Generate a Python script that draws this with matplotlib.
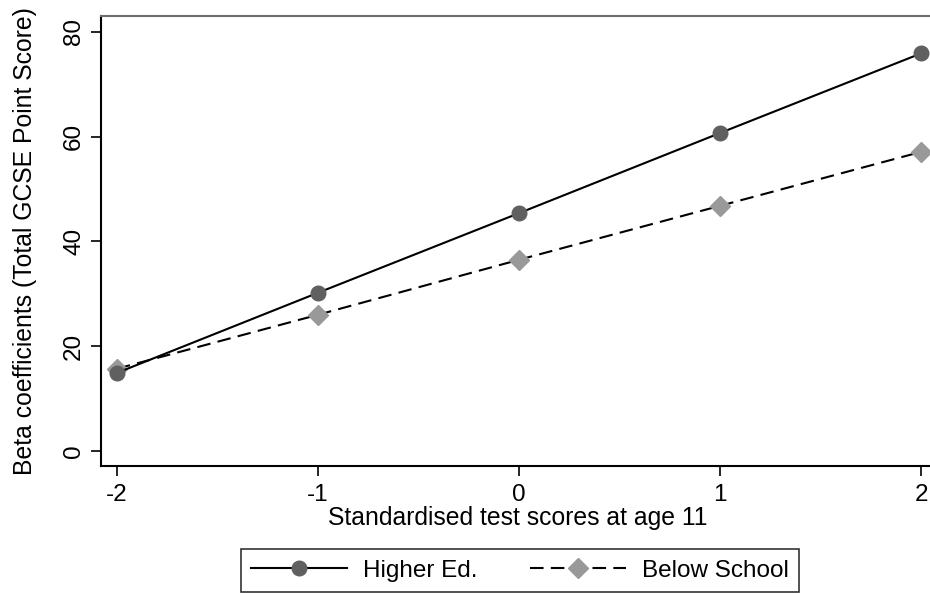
import matplotlib
matplotlib.use("Agg")
import matplotlib.pyplot as plt

x_vals = [-2, -1, 0, 1, 2]
higher_ed = [14.9, 30.2, 45.4, 60.7, 75.9]
below_school = [15.7, 26.0, 36.5, 46.8, 57.1]
y_ticks = [0, 20, 40, 60, 80]
x_ticks = [-2, -1, 0, 1, 2]

plt.rcParams['font.family'] = ['Liberation Sans', 'DejaVu Sans']

fig = plt.figure(figsize=(9.3, 5.93), dpi=100)
ax = fig.add_axes([0.1086, 0.2142, 0.899, 0.759])

ax.plot(x_vals, below_school, color='black', lw=1.5, ls=(0, (6.5, 3.5)),
        marker='D', markersize=10, markerfacecolor='#999999', markeredgecolor='#999999',
        label='Below School', zorder=3)
ax.plot(x_vals, higher_ed, color='black', lw=1.5, ls='-',
        marker='o', markersize=10.5, markerfacecolor='#606060', markeredgecolor='#606060',
        label='Higher Ed.', zorder=4)

ax.set_xlim(-2.079, 2.079)
ax.set_ylim(-2.86, 83.05)
ax.set_xticks(x_ticks)
ax.set_xticklabels([str(v) for v in x_ticks])
ax.set_yticks(y_ticks)
ax.set_yticklabels([str(v) for v in y_ticks], rotation=90, va='center')
ax.tick_params(axis='both', direction='out', length=7, width=1.2, labelsize=17.5)
ax.tick_params(axis='x', pad=6)
ax.tick_params(axis='y', pad=4.5)
for s in ['left', 'bottom']:
    ax.spines[s].set_color('black')
    ax.spines[s].set_linewidth(1.5)
for s in ['top', 'right']:
    ax.spines[s].set_color('#6e6e6e')
    ax.spines[s].set_linewidth(1.5)

ax.set_xlabel('Standardised test scores at age 11', fontsize=17.8)
ax.xaxis.set_label_coords(0.499, -0.090)
ax.set_ylabel('Beta coefficients (Total GCSE Point Score)', fontsize=17.8)
ax.yaxis.set_label_coords(-0.0766, 0.5)

handles, labels = ax.get_legend_handles_labels()
leg = fig.legend(handles[::-1], labels[::-1], loc='lower center', bbox_to_anchor=(0.559, 0.0),
                 ncol=2, fontsize=17.5, handlelength=3.95, frameon=True, fancybox=False,
                 edgecolor='black', borderpad=0.42, columnspacing=2.15, handletextpad=0.66,
                 borderaxespad=0.05)
leg.get_frame().set_linewidth(1.2)

fig.savefig('out.png', dpi=100)
